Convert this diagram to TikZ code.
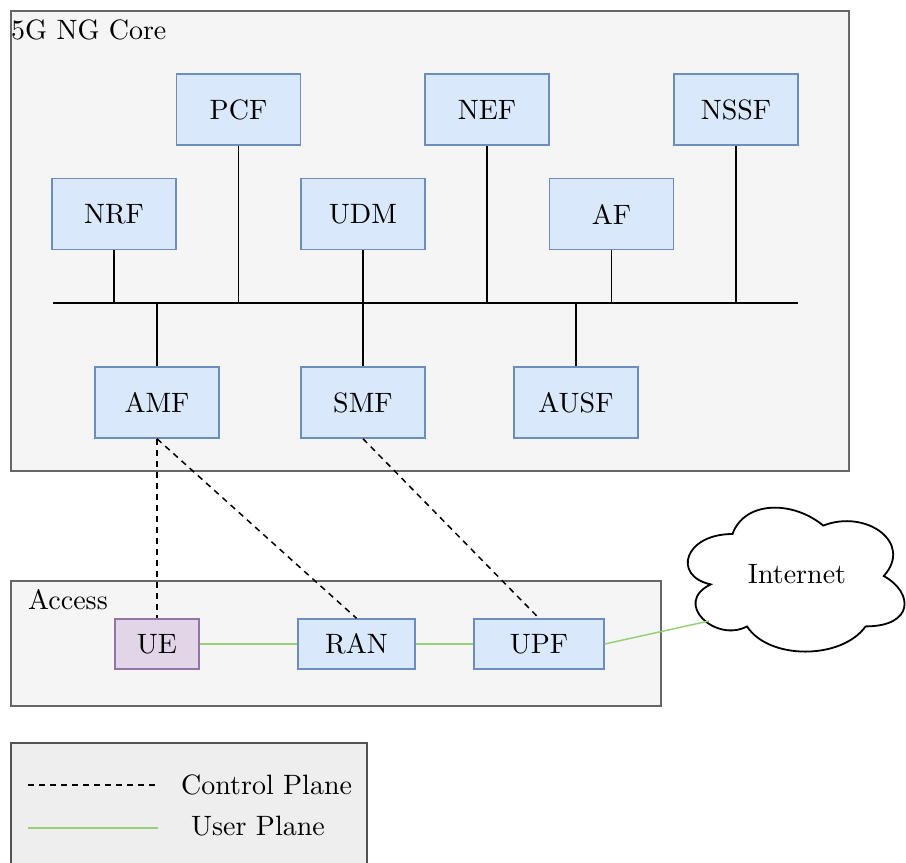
\documentclass[tikz,border=0pt]{standalone}
\usepackage{fontspec}
\setmainfont{lmroman10-regular}[Extension=.otf]
\definecolor{corefill}{HTML}{F5F5F5}
\definecolor{corestroke}{HTML}{666666}
\definecolor{legfill}{HTML}{EEEEEE}
\definecolor{nfill}{HTML}{DAE8FC}
\definecolor{nstroke}{HTML}{6C8EBF}
\definecolor{uefill}{HTML}{E1D5E7}
\definecolor{uestroke}{HTML}{9673A6}
\definecolor{upl}{HTML}{97D077}
\tikzset{
  x=1pt, y=-1pt,
  every node/.style={font=\fontsize{28}{33}\selectfont, inner sep=0pt},
  nf/.style={draw=nstroke, fill=nfill, line width=1.5pt, minimum width=124pt, minimum height=71pt},
  af/.style={draw=nstroke, fill=nfill, line width=1.5pt, minimum height=50pt},
  uebox/.style={draw=uestroke, fill=uefill, line width=1.5pt, minimum width=84pt, minimum height=50pt},
  grp/.style={draw=corestroke, fill=corefill, line width=1.5pt},
  bus/.style={line width=1.5pt},
  ctrl/.style={line width=1.5pt, dash pattern=on 6pt off 5pt},
  userpl/.style={draw=upl, line width=1.5pt},
  cloudline/.style={draw=black, fill=white, line width=1.8pt},
}
\begin{document}
\begin{tikzpicture}
\useasboundingbox (0,0) rectangle (906,863);
% groups
\draw[grp] (11,11) rectangle (849,471);
\node[anchor=base west] (corelbl) at (11,39) {5G NG Core};
\draw[grp] (11,581) rectangle (661,706);
\node[anchor=base west] (acclbl) at (28,609) {Access};
\draw[grp, fill=legfill, draw=corestroke!80!black] (11,743) rectangle (367,870);
% core nodes
\node[nf] (PCF) at (238.5,109.5) {PCF};
\node[nf] (NEF) at (487,109.5) {NEF};
\node[nf] (NSSF) at (736,109.5) {NSSF};
\node[nf] (NRF) at (114,214) {NRF};
\node[nf] (UDM) at (363,214) {UDM};
\node[nf] (AF) at (611.5,214) {AF};
\node[nf] (AMF) at (157,402.5) {AMF};
\node[nf] (SMF) at (363,402.5) {SMF};
\node[nf] (AUSF) at (576,402.5) {AUSF};
% bus
\coordinate (busL) at (53,303);
\coordinate (busR) at (798,303);
\draw[bus] (busL) -- (busR);
\foreach \n in {PCF,NEF,NSSF,NRF,UDM,AF}
  \draw[bus] (\n.south) -- (\n.south |- busL);
\foreach \n in {AMF,SMF,AUSF}
  \draw[bus] (\n.north) -- (\n.north |- busL);
% access
\node[uebox] (UE) at (157,644) {UE};
\node[af, minimum width=117pt] (RAN) at (356.5,644) {RAN};
\node[af, minimum width=130pt] (UPF) at (539,644) {UPF};
% cloud (x0=672, y0=492, w=242, h=168)
\begin{scope}[shift={(672,492)}, x=242pt, y=-168pt]
\draw[cloudline]
  (0.25,0.25) .. controls (0.05,0.25) and (0,0.5) .. (0.16,0.55)
  .. controls (0,0.66) and (0.18,0.9) .. (0.31,0.8)
  .. controls (0.4,1) and (0.7,1) .. (0.8,0.8)
  .. controls (1,0.8) and (1,0.6) .. (0.875,0.5)
  .. controls (1,0.3) and (0.8,0.1) .. (0.625,0.2)
  .. controls (0.5,0.05) and (0.3,0.05) .. (0.25,0.25) -- cycle;
\end{scope}
\node[anchor=base] (NET) at (797,583) {Internet};
% planes
\draw[userpl] (UE) -- (RAN);
\draw[userpl] (RAN) -- (UPF);
\coordinate (netin) at (709,621);
\draw[userpl] (UPF.east) -- (netin);
\draw[ctrl] (AMF.south) -- (UE.north);
\draw[ctrl] (AMF.south) -- (RAN.north);
\draw[ctrl] (SMF.south) -- (UPF.north);
% legend
\coordinate (l1a) at (28,785);
\coordinate (l1b) at (158,785);
\coordinate (l2a) at (28,828);
\coordinate (l2b) at (158,828);
\draw[ctrl] (l1a) -- (l1b);
\draw[userpl] (l2a) -- (l2b);
\node[anchor=base west] (cplbl) at (181,794) {Control Plane};
\node[anchor=base west] (uplbl) at (191,835) {User Plane};
\end{tikzpicture}
\end{document}
